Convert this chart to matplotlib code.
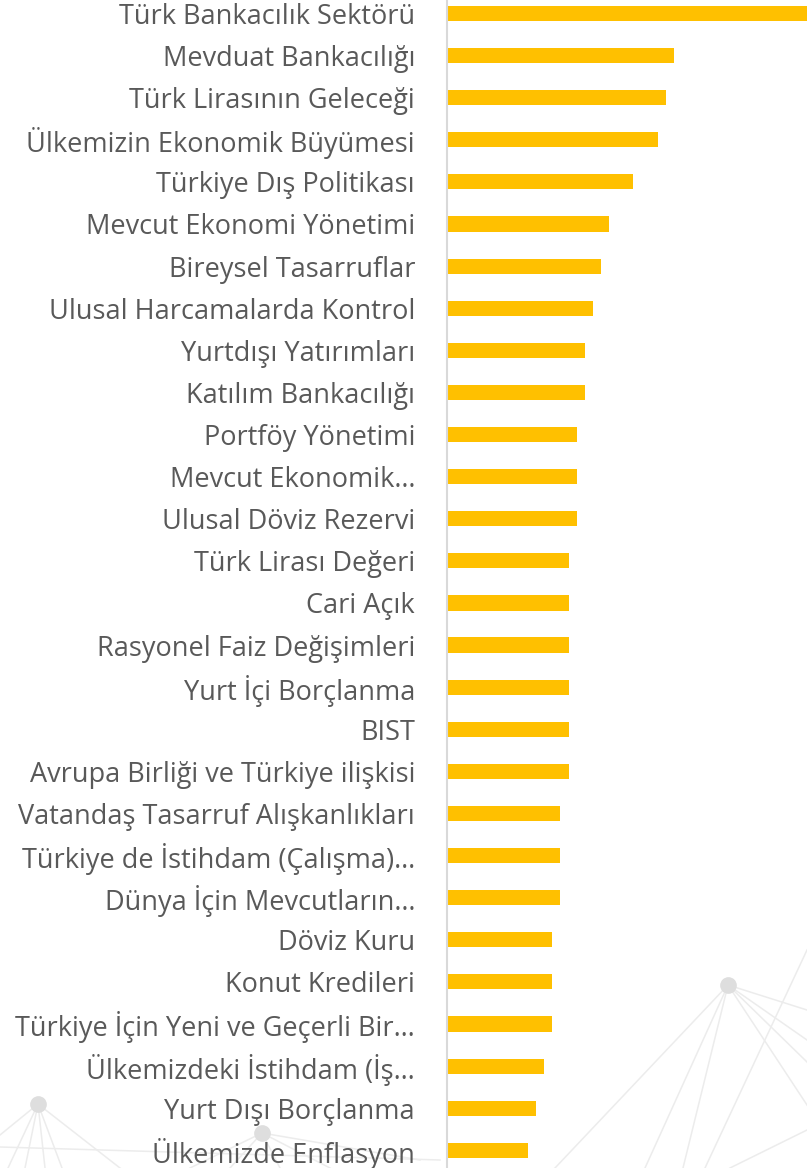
import numpy as np
import matplotlib.pyplot as plt
from matplotlib.lines import Line2D

plt.rcParams['font.family'] = ['Open Sans', 'DejaVu Sans']

konular = [
    "Türk Bankacılık Sektörü",
    "Mevduat Bankacılığı",
    "Türk Lirasının Geleceği",
    "Ülkemizin Ekonomik Büyümesi",
    "Türkiye Dış Politikası",
    "Mevcut Ekonomi Yönetimi",
    "Bireysel Tasarruflar",
    "Ulusal Harcamalarda Kontrol",
    "Yurtdışı Yatırımları",
    "Katılım Bankacılığı",
    "Portföy Yönetimi",
    "Mevcut Ekonomik…",
    "Ulusal Döviz Rezervi",
    "Türk Lirası Değeri",
    "Cari Açık",
    "Rasyonel Faiz Değişimleri",
    "Yurt İçi Borçlanma",
    "BIST",
    "Avrupa Birliği ve Türkiye ilişkisi",
    "Vatandaş Tasarruf Alışkanlıkları",
    "Türkiye de İstihdam (Çalışma)…",
    "Dünya İçin Mevcutların…",
    "Döviz Kuru",
    "Konut Kredileri",
    "Türkiye İçin Yeni ve Geçerli Bir…",
    "Ülkemizdeki İstihdam (İş…",
    "Yurt Dışı Borçlanma",
    "Ülkemizde Enflasyon",
]
degerler = [48, 28, 27, 26, 23, 20, 19, 18, 17, 17, 16, 16, 16, 15, 15, 15, 15,
            15, 15, 14, 14, 14, 13, 13, 13, 12, 11, 10]

fig = plt.figure(figsize=(8.07, 11.68), dpi=100)
fig.patch.set_facecolor('white')

# arka plandaki silik ag cizgileri (dekor)
gri = '#ececec'
agac = [
    ((728, 985), [(555, 1168), (645, 1168), (683, 1168), (807, 1010), (807, 1040), (807, 1062), (807, 1105)]),
    ((38, 1104), [(0, 1135), (8, 1168), (25, 1168), (45, 1168), (62, 1168), (120, 1168)]),
    ((262, 1133), [(190, 1168), (230, 1168), (280, 1168), (330, 1168), (420, 1160)]),
]
for (x0, y0), uclar in agac:
    for x1, y1 in uclar:
        fig.add_artist(Line2D([x0 / 807, x1 / 807], [1 - y0 / 1168, 1 - y1 / 1168],
                              color=gri, lw=1.1, zorder=0))
    fig.add_artist(Line2D([x0 / 807], [1 - y0 / 1168], marker='o', ms=11,
                          color='#dedede', lw=0, zorder=0))
fig.add_artist(Line2D([807 / 807, 705 / 807], [1 - 950 / 1168, 0], color=gri, lw=1.1, zorder=0))
fig.add_artist(Line2D([730 / 807, 1.0], [0, 1 - 1130 / 1168], color=gri, lw=1.1, zorder=0))
fig.add_artist(Line2D([0, 440 / 807], [1 - 1147 / 1168, 1 - 1160 / 1168], color=gri, lw=1.1, zorder=0))

ax = fig.add_axes([447 / 807, 0, 1 - 447 / 807, 1])
ax.patch.set_alpha(0)

y = np.arange(len(konular))
ax.barh(y, degerler, height=0.36, color='#FFC000', zorder=2)

ax.set_xlim(0, 360 / 8.1)
ax.set_ylim(27.42, -0.32)
ax.set_yticks(y)
ax.set_yticklabels(konular, fontsize=19.5, color='#595959')
ax.tick_params(axis='y', length=0, pad=23)
ax.set_xticks([])

for s in ['top', 'right', 'bottom']:
    ax.spines[s].set_visible(False)
ax.spines['left'].set_color('#d9d9d9')
ax.spines['left'].set_linewidth(1.5)

fig.savefig('out.png', dpi=100)
